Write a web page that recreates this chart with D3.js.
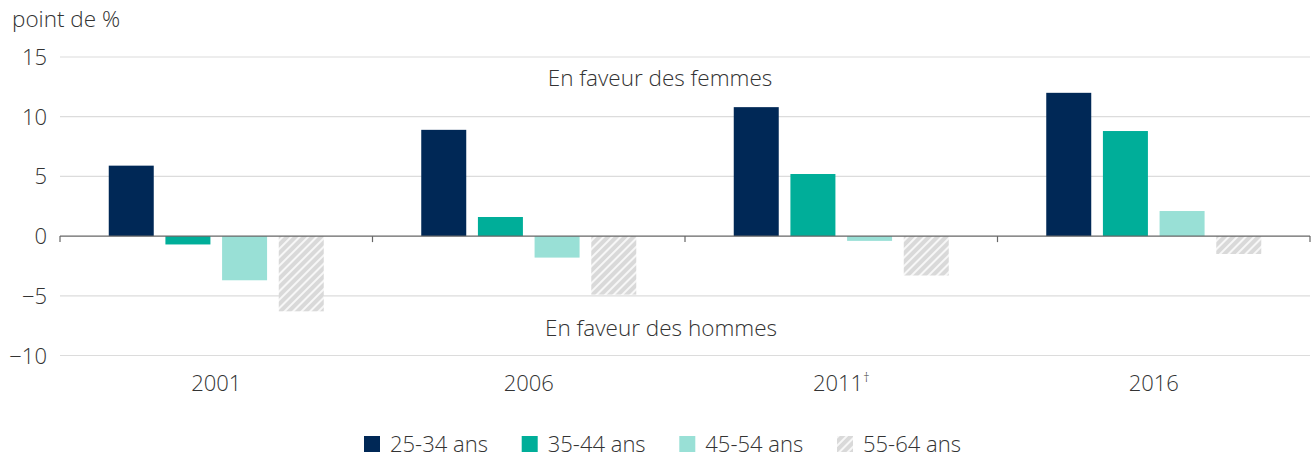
<!DOCTYPE html>
<html>
<head>
<meta charset="utf-8">
<script src="https://cdn.jsdelivr.net/npm/d3@7"></script>
<style>
    body { margin: 0; background: #fff; }
    svg text { font-family: "Open Sans", sans-serif; font-weight: 300; fill: #333; }
</style>
</head>
<body>
<svg id="chart" width="1314" height="460"></svg>
<script>
// data
const years = ["2001", "2006", "2011", "2016"];
const groups = ["25-34 ans", "35-44 ans", "45-54 ans", "55-64 ans"];
const v2534 = [5.9, 8.9, 10.8, 12.0];
const v3544 = [-0.7, 1.6, 5.2, 8.8];
const v4554 = [-3.7, -1.8, -0.4, 2.1];
const v5564 = [-6.3, -4.9, -3.3, -1.5];
const yTicks = [-10, -5, 0, 5, 10, 15];

const series = [v2534, v3544, v4554, v5564];
const colors = ["#002856", "#00ae99", "#99e0d6", "url(#hatch)"];

const svg = d3.select("#chart");
const plot = { left: 60, right: 1310, top: 57, bottom: 355.5 };

// hatch pattern for 55-64
const defs = svg.append("defs");
const pat = defs.append("pattern")
    .attr("id", "hatch")
    .attr("patternUnits", "userSpaceOnUse")
    .attr("width", 6)
    .attr("height", 6)
    .attr("patternTransform", "rotate(45)");
pat.append("rect").attr("width", 6).attr("height", 6).attr("fill", "#d9d9d9");
pat.append("line")
    .attr("x1", 1).attr("y1", 0).attr("x2", 1).attr("y2", 6)
    .attr("stroke", "#fff").attr("stroke-width", 1.6);

let x0 = d3.scaleBand()
    .domain(years)
    .range([plot.left, plot.right]);

let x1 = d3.scaleBand()
    .domain(groups)
    .range([48.75, x0.bandwidth() - 48.75])
    .paddingInner(0.206);

let y = d3.scaleLinear()
    .domain([-10, 15])
    .range([plot.bottom, plot.top]);

// gridlines
svg.append("g")
    .selectAll("line")
    .data(yTicks.filter(d => d !== 0))
    .enter().append("line")
    .attr("x1", plot.left)
    .attr("x2", plot.right)
    .attr("y1", d => y(d))
    .attr("y2", d => y(d))
    .attr("stroke", "#dcdcdc")
    .attr("stroke-width", 1.2);

// y tick labels
svg.append("g")
    .selectAll("text")
    .data(yTicks)
    .enter().append("text")
    .attr("x", 47)
    .attr("y", d => y(d) + 8)
    .attr("text-anchor", "end")
    .attr("font-size", 22)
    .text(d => d3.format("d")(d));

svg.append("text")
    .attr("x", 12)
    .attr("y", 27)
    .attr("font-size", 22.5)
    .text("point de %");

// bars
let yearG = svg.append("g")
    .selectAll("g")
    .data(years)
    .enter().append("g")
    .attr("transform", d => "translate(" + x0(d) + ",0)");

yearG.selectAll("rect")
    .data((d, i) => groups.map((g, j) => ({ group: g, value: series[j][i], fill: colors[j] })))
    .enter().append("rect")
    .attr("x", d => x1(d.group))
    .attr("width", x1.bandwidth())
    .attr("y", d => y(Math.max(0, d.value)))
    .attr("height", d => Math.abs(y(d.value) - y(0)))
    .attr("fill", d => d.fill);

// zero line and category ticks
svg.append("line")
    .attr("x1", plot.left)
    .attr("x2", plot.right)
    .attr("y1", y(0))
    .attr("y2", y(0))
    .attr("stroke", "#666")
    .attr("stroke-width", 1.4);

svg.append("g")
    .selectAll("line")
    .data(years.map(d => x0(d)).concat([plot.right]))
    .enter().append("line")
    .attr("x1", d => d)
    .attr("x2", d => d)
    .attr("y1", y(0))
    .attr("y2", y(0) + 6)
    .attr("stroke", "#666")
    .attr("stroke-width", 1.2);

// category labels
let catLabels = svg.append("g")
    .selectAll("text")
    .data(years)
    .enter().append("text")
    .attr("x", d => x0(d) + x0.bandwidth() / 2)
    .attr("y", 391)
    .attr("text-anchor", "middle")
    .attr("font-size", 22);
catLabels.append("tspan").text(d => d);
catLabels.filter(d => d === "2011")
    .append("tspan")
    .attr("dy", -9)
    .attr("font-size", 13)
    .text("†");

// annotations
svg.append("text")
    .attr("x", 660)
    .attr("y", 86)
    .attr("text-anchor", "middle")
    .attr("font-size", 22.5)
    .text("En faveur des femmes");

svg.append("text")
    .attr("x", 661)
    .attr("y", 336)
    .attr("text-anchor", "middle")
    .attr("font-size", 22.5)
    .text("En faveur des hommes");

// legend
let legendX = [364, 521.7, 679.3, 837];
let legend = svg.append("g")
    .selectAll("g")
    .data(groups)
    .enter().append("g")
    .attr("transform", (d, i) => "translate(" + legendX[i] + ",436)");

legend.append("rect")
    .attr("width", 16)
    .attr("height", 16)
    .attr("fill", (d, i) => colors[i]);

legend.append("text")
    .attr("x", 26)
    .attr("y", 16)
    .attr("font-size", 22)
    .text(d => d);
</script>
</body>
</html>
